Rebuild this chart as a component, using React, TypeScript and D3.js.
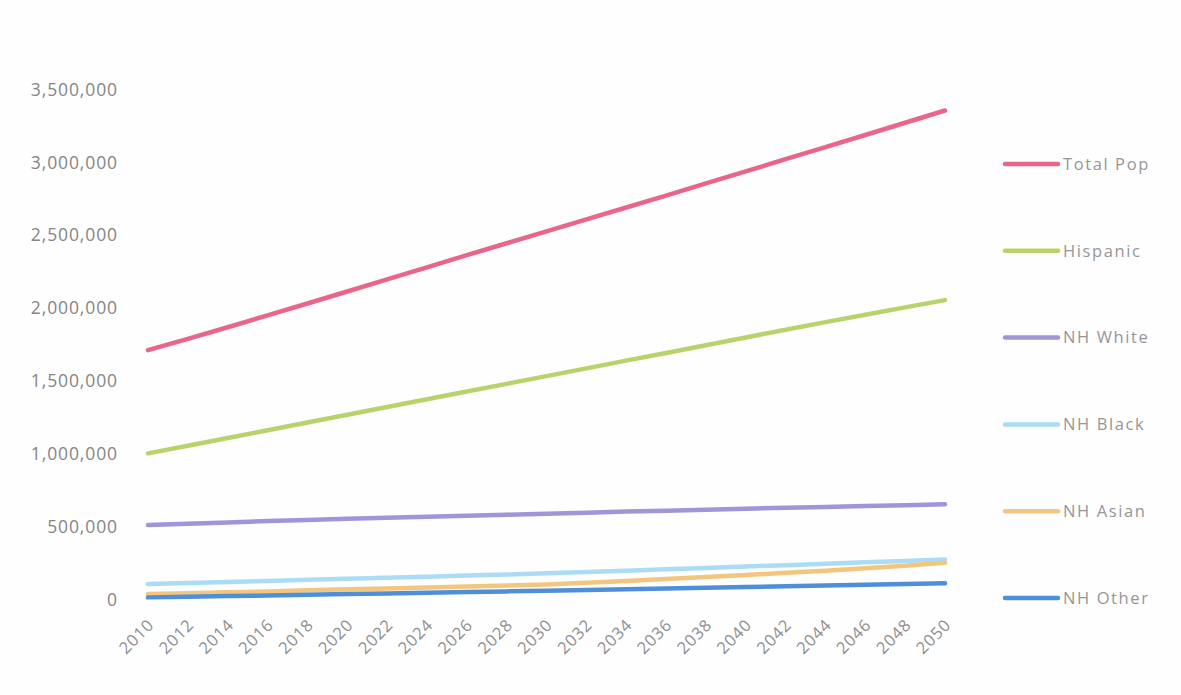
import React from 'react';
import * as d3 from 'd3';

const years = [
  '2010', '2012', '2014', '2016', '2018', '2020', '2022', '2024', '2026', '2028', '2030',
  '2032', '2034', '2036', '2038', '2040', '2042', '2044', '2046', '2048', '2050',
];

// values in millions
const totalPop = [1.713, 1.790, 1.870, 1.951, 2.033, 2.115, 2.198, 2.281, 2.364, 2.446, 2.527, 2.609, 2.691, 2.773, 2.856, 2.939, 3.022, 3.105, 3.188, 3.272, 3.356];
const hispanic = [1.005, 1.058, 1.111, 1.164, 1.217, 1.270, 1.323, 1.376, 1.429, 1.482, 1.535, 1.588, 1.641, 1.694, 1.747, 1.800, 1.853, 1.905, 1.956, 2.006, 2.056];
const nhWhite = [0.514, 0.523, 0.532, 0.541, 0.549, 0.557, 0.564, 0.571, 0.578, 0.585, 0.592, 0.599, 0.606, 0.612, 0.619, 0.626, 0.632, 0.638, 0.644, 0.650, 0.656];
const nhBlack = [0.109, 0.116, 0.124, 0.131, 0.138, 0.146, 0.153, 0.160, 0.168, 0.175, 0.183, 0.192, 0.201, 0.211, 0.220, 0.230, 0.239, 0.249, 0.258, 0.268, 0.278];
const nhAsian = [0.041, 0.047, 0.053, 0.059, 0.066, 0.073, 0.079, 0.086, 0.092, 0.099, 0.107, 0.119, 0.131, 0.144, 0.157, 0.171, 0.186, 0.201, 0.217, 0.235, 0.255];
const nhOther = [0.018, 0.022, 0.027, 0.031, 0.036, 0.041, 0.045, 0.050, 0.055, 0.059, 0.064, 0.069, 0.074, 0.079, 0.084, 0.089, 0.094, 0.099, 0.104, 0.109, 0.114];

const seriesNames = ['Total Pop', 'Hispanic', 'NH White', 'NH Black', 'NH Asian', 'NH Other'];
const seriesValues = [totalPop, hispanic, nhWhite, nhBlack, nhAsian, nhOther];
const seriesColors = ['#e9668a', '#b9d36c', '#a095d8', '#aadcf5', '#f3c680', '#4f8fd9'];

const yTicks = [0, 500000, 1000000, 1500000, 2000000, 2500000, 3000000, 3500000];

const W = 1181;
const H = 695;

export default function App() {
  const x = d3.scalePoint<string>().domain(years).range([148, 945]);
  const y = d3.scaleLinear().domain([0, 3500000]).range([600, 89.5]);
  const fmt = d3.format(',');

  const line = d3.line<number>()
    .x((_, i) => x(years[i]) as number)
    .y(d => y(d * 1000000));

  const legendY = d3.scalePoint<string>().domain(seriesNames).range([164, 598]);

  return (
    <svg
      width={W}
      height={H}
      style={{ position: 'absolute', left: 0, top: 0, background: '#fefefe' }}
      fontFamily="'Open Sans', 'Noto Sans', sans-serif"
    >
      {yTicks.map(t => (
        <text key={t} x={118} y={y(t)} dy="0.35em" textAnchor="end" fontSize={17.5} letterSpacing={0.9} fill="#858585">
          {fmt(t)}
        </text>
      ))}

      {years.map(yr => (
        <text
          key={yr}
          transform={`translate(${(x(yr) as number) + 7},${626}) rotate(-45)`}
          textAnchor="end"
          fontSize={16.5}
          letterSpacing={0.8}
          fill="#8f8f8f"
        >
          {yr}
        </text>
      ))}

      {seriesValues.map((vals, i) => (
        <path
          key={seriesNames[i]}
          d={line(vals) || ''}
          fill="none"
          stroke={seriesColors[i]}
          strokeWidth={4.5}
          strokeLinecap="round"
        />
      ))}

      {seriesNames.map((name, i) => {
        const ly = legendY(name) as number;
        return (
          <g key={name}>
            <line x1={1005} x2={1058} y1={ly} y2={ly} stroke={seriesColors[i]} strokeWidth={4.5} strokeLinecap="round" />
            <text x={1063} y={ly} dy="0.35em" fontSize={16.5} letterSpacing={1.6} fill="#969696">{name}</text>
          </g>
        );
      })}
    </svg>
  );
}
